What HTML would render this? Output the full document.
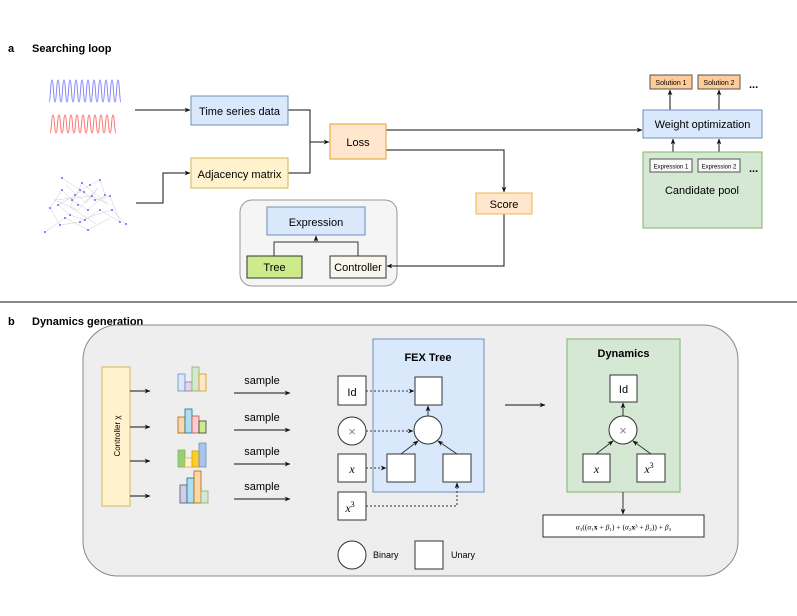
<!DOCTYPE html>
<html><head><meta charset="utf-8"><style>
body{margin:0;background:#fff}
svg{display:block;font-family:"Liberation Sans",Arial,sans-serif}
</style></head><body>
<svg width="797" height="616" viewBox="0 0 797 616" xmlns="http://www.w3.org/2000/svg">
<defs>
<marker id="ar" viewBox="0 0 10 10" refX="9" refY="5" markerWidth="6" markerHeight="6" orient="auto"><path d="M0,1 L10,5 L0,9 L3,5z" fill="#111"/></marker>
</defs>
<text x="8" y="52" font-size="11" font-weight="bold">a</text>
<text x="32" y="52" font-size="11" font-weight="bold">Searching loop</text>
<!-- waves -->
<path fill="none" stroke="#8888ff" stroke-width="1" d="M49,102 c1.5,0 1.5,-22 3,-22 s1.5,22 3,22 s1.5,-22 3,-22 s1.5,22 3,22 s1.5,-22 3,-22 s1.5,22 3,22 s1.5,-22 3,-22 s1.5,22 3,22 s1.5,-22 3,-22 s1.5,22 3,22 s1.5,-22 3,-22 s1.5,22 3,22 s1.5,-22 3,-22 s1.5,22 3,22 s1.5,-22 3,-22 s1.5,22 3,22 s1.5,-22 3,-22 s1.5,22 3,22 s1.5,-22 3,-22 s1.5,22 3,22 s1.5,-22 3,-22 s1.5,22 3,22 s1.5,-22 3,-22 s1.5,22 3,22"/>
<path fill="none" stroke="#ff7777" stroke-width="1" d="M50,133 c1.5,0 1.5,-18 3,-18 s1.5,18 3,18 s1.5,-18 3,-18 s1.5,18 3,18 s1.5,-18 3,-18 s1.5,18 3,18 s1.5,-18 3,-18 s1.5,18 3,18 s1.5,-18 3,-18 s1.5,18 3,18 s1.5,-18 3,-18 s1.5,18 3,18 s1.5,-18 3,-18 s1.5,18 3,18 s1.5,-18 3,-18 s1.5,18 3,18 s1.5,-18 3,-18 s1.5,18 3,18 s1.5,-18 3,-18 s1.5,18 3,18 s1.5,-18 3,-18 s1.5,18 3,18"/>
<!-- network -->
<g stroke="#ccc" stroke-width="0.5" fill="none">
<path d="M62,178 L80,190 L95,200 L110,196 L120,222 L100,210 L85,220 L70,215 L58,205 L75,195 L90,185 L100,180 L105,195 L88,210 L72,200 L62,190 L50,208 L60,225 L80,222 L95,215 L112,210 L126,224 M66,185 L86,203 L98,188 L78,210 L54,200 L92,196 L108,204 L82,183 L70,207 L96,224 M45,232 L65,218 L88,230 L110,218"/>
</g>
<g fill="#6666ff">
<circle cx="62" cy="178" r="1"/><circle cx="80" cy="190" r="1"/><circle cx="95" cy="200" r="1"/><circle cx="110" cy="196" r="1"/><circle cx="120" cy="222" r="1"/><circle cx="100" cy="210" r="1"/><circle cx="85" cy="220" r="1"/><circle cx="70" cy="215" r="1"/><circle cx="58" cy="205" r="1"/><circle cx="75" cy="195" r="1"/><circle cx="90" cy="185" r="1"/><circle cx="100" cy="180" r="1"/><circle cx="105" cy="195" r="1"/><circle cx="88" cy="210" r="1"/><circle cx="72" cy="200" r="1"/><circle cx="62" cy="190" r="1"/><circle cx="50" cy="208" r="1"/><circle cx="60" cy="225" r="1"/><circle cx="80" cy="222" r="1"/><circle cx="112" cy="210" r="1"/><circle cx="126" cy="224" r="1"/><circle cx="45" cy="232" r="1"/><circle cx="65" cy="218" r="1"/><circle cx="88" cy="230" r="1"/><circle cx="82" cy="183" r="1"/><circle cx="92" cy="196" r="1"/><circle cx="78" cy="205" r="1"/><circle cx="84" cy="192" r="1"/>
</g>
<rect x="240" y="200" width="157" height="86" rx="12" fill="#f5f5f5" stroke="#999"/>
<g stroke="#111" stroke-width="1" fill="none">
<line x1="135" y1="110" x2="190" y2="110" marker-end="url(#ar)"/>
<polyline points="136,203 163,203 163,173 190,173" marker-end="url(#ar)"/>
<polyline points="288,110 310,110 310,173 288,173"/>
<line x1="310" y1="142" x2="329" y2="142" marker-end="url(#ar)"/>
<polyline points="386,130 642,130" marker-end="url(#ar)"/>
<polyline points="386,150 504,150 504,192" marker-end="url(#ar)"/>
<polyline points="504,214 504,266 387,266" marker-end="url(#ar)"/>
<line x1="670" y1="110" x2="670" y2="90" marker-end="url(#ar)"/>
<polyline points="702,110 719,110 719,90" marker-end="url(#ar)"/>
<line x1="673" y1="159" x2="673" y2="139" marker-end="url(#ar)"/>
<line x1="719" y1="159" x2="719" y2="139" marker-end="url(#ar)"/>
</g>
<rect x="191" y="96" width="97" height="29" fill="#dae8fc" stroke="#6c8ebf"/>
<text x="239.5" y="115" font-size="11" text-anchor="middle">Time series data</text>
<rect x="191" y="158" width="97" height="30" fill="#fff2cc" stroke="#d6b656"/>
<text x="239.5" y="178" font-size="11" text-anchor="middle">Adjacency matrix</text>
<rect x="330" y="124" width="56" height="35" fill="#ffe6cc" stroke="#e0a030"/>
<text x="358" y="146" font-size="11" text-anchor="middle">Loss</text>
<rect x="476" y="193" width="56" height="21" fill="#ffe6cc" stroke="#e8b84a"/>
<text x="504" y="208" font-size="11" text-anchor="middle">Score</text>
<rect x="267" y="207" width="98" height="28" fill="#dae8fc" stroke="#6c8ebf"/>
<text x="316" y="226" font-size="11" text-anchor="middle">Expression</text>
<g stroke="#333" fill="none"><polyline points="274,256 274,242 358,242 358,256"/><line x1="316" y1="242" x2="316" y2="236" marker-end="url(#ar)"/></g>
<rect x="247" y="256" width="55" height="22" fill="#cdeb8b" stroke="#333"/>
<text x="274.5" y="271" font-size="11" text-anchor="middle">Tree</text>
<rect x="330" y="256" width="56" height="22" fill="#f9f7ed" stroke="#333"/>
<text x="358" y="271" font-size="11" text-anchor="middle">Controller</text>
<rect x="643" y="110" width="119" height="28" fill="#dae8fc" stroke="#6c8ebf"/>
<text x="702.5" y="128" font-size="11" text-anchor="middle">Weight optimization</text>
<rect x="650" y="75" width="42" height="14" fill="#ffcc99" stroke="#555"/>
<text x="671" y="85" font-size="7" text-anchor="middle">Solution 1</text>
<rect x="698" y="75" width="42" height="14" fill="#ffcc99" stroke="#555"/>
<text x="719" y="85" font-size="7" text-anchor="middle">Solution 2</text>
<text x="749" y="88" font-size="11" font-weight="bold">...</text>
<rect x="643" y="152" width="119" height="76" fill="#d5e8d4" stroke="#82b366"/>
<rect x="650" y="159" width="42" height="13" fill="#f9f9f9" stroke="#555"/>
<text x="671" y="168.5" font-size="6" text-anchor="middle">Expression 1</text>
<rect x="698" y="159" width="42" height="13" fill="#f9f9f9" stroke="#555"/>
<text x="719" y="168.5" font-size="6" text-anchor="middle">Expression 2</text>
<text x="749" y="172" font-size="11" font-weight="bold">...</text>
<text x="702" y="194" font-size="11" text-anchor="middle">Candidate pool</text>
<line x1="0" y1="302" x2="797" y2="302" stroke="#111" stroke-width="1"/>
<text x="8" y="325" font-size="11" font-weight="bold">b</text>
<text x="32" y="325" font-size="11" font-weight="bold">Dynamics generation</text>
<rect x="83" y="325" width="655" height="251" rx="35" fill="#eeeeee" stroke="#888"/>
<rect x="102" y="367" width="28" height="139" fill="#fff2cc" stroke="#d6b656"/>
<text transform="translate(120,436) rotate(-90)" font-size="8" text-anchor="middle">Controller χ</text>
<g stroke="#111" fill="none">
<line x1="130" y1="391" x2="150" y2="391" marker-end="url(#ar)"/>
<line x1="130" y1="427" x2="150" y2="427" marker-end="url(#ar)"/>
<line x1="130" y1="461" x2="150" y2="461" marker-end="url(#ar)"/>
<line x1="130" y1="496" x2="150" y2="496" marker-end="url(#ar)"/>
<line x1="234" y1="393" x2="290" y2="393" marker-end="url(#ar)"/>
<line x1="234" y1="430" x2="290" y2="430" marker-end="url(#ar)"/>
<line x1="234" y1="464" x2="290" y2="464" marker-end="url(#ar)"/>
<line x1="234" y1="499" x2="290" y2="499" marker-end="url(#ar)"/>
</g>
<g font-size="11" text-anchor="middle"><text x="262" y="384">sample</text><text x="262" y="421">sample</text><text x="262" y="455">sample</text><text x="262" y="490">sample</text></g>
<g stroke-width="0.8">
<rect x="178" y="374" width="7" height="17" fill="#dae8fc" stroke="#6c8ebf"/><rect x="185" y="382" width="7" height="9" fill="#e1d5e7" stroke="#9673a6"/><rect x="192" y="367" width="7" height="24" fill="#d5e8d4" stroke="#82b366"/><rect x="199" y="374" width="7" height="17" fill="#ffe6cc" stroke="#d79b00"/>
<rect x="178" y="417" width="7" height="16" fill="#fad7ac" stroke="#b46504"/><rect x="185" y="409" width="7" height="24" fill="#b1ddf0" stroke="#10739e"/><rect x="192" y="416" width="7" height="17" fill="#f8cecc" stroke="#b85450"/><rect x="199" y="421" width="7" height="12" fill="#cdeb8b" stroke="#36393d"/>
<rect x="178" y="450" width="7" height="17" fill="#97d077" stroke="#82b366"/><rect x="185" y="458" width="7" height="9" fill="#fff2cc" stroke="#d6b656"/><rect x="192" y="451" width="7" height="16" fill="#ffcd28" stroke="#d79b00"/><rect x="199" y="443" width="7" height="24" fill="#a9c4eb" stroke="#6c8ebf"/>
<rect x="180" y="485" width="7" height="18" fill="#d0cee2" stroke="#56517e"/><rect x="187" y="478" width="7" height="25" fill="#b1ddf0" stroke="#10739e"/><rect x="194" y="471" width="7" height="32" fill="#fad7ac" stroke="#b46504"/><rect x="201" y="491" width="7" height="12" fill="#d5e8d4" stroke="#82b366"/>
</g>
<rect x="373" y="339" width="111" height="153" fill="#dae8fc" stroke="#6c8ebf"/>
<text x="428" y="361" font-size="11" font-weight="bold" text-anchor="middle">FEX Tree</text>
<g fill="#fff" stroke="#333">
<rect x="338" y="376" width="28" height="29"/><circle cx="352" cy="431" r="14"/><rect x="338" y="454" width="28" height="28"/><rect x="338" y="492" width="28" height="28"/>
<rect x="415" y="377" width="27" height="28"/><circle cx="428" cy="430" r="14"/><rect x="387" y="454" width="28" height="28"/><rect x="443" y="454" width="28" height="28"/>
<circle cx="352" cy="555" r="14"/><rect x="415" y="541" width="28" height="28"/>
</g>
<text x="352" y="396" font-size="11" text-anchor="middle">Id</text>
<text x="352" y="436" font-size="13" fill="#888" text-anchor="middle">×</text>
<text x="352" y="473" font-size="12" font-style="italic" font-family="Liberation Serif" text-anchor="middle">x</text>
<text x="350" y="512" font-size="12" font-style="italic" font-family="Liberation Serif" text-anchor="middle">x<tspan font-style="normal" font-size="8" dy="-5">3</tspan></text>
<g stroke="#333" fill="none" stroke-dasharray="2,2">
<line x1="366" y1="391" x2="414" y2="391" marker-end="url(#ar)"/>
<line x1="366" y1="431" x2="413" y2="431" marker-end="url(#ar)"/>
<line x1="366" y1="468" x2="386" y2="468" marker-end="url(#ar)"/>
<polyline points="366,506 457,506 457,483" marker-end="url(#ar)"/>
</g>
<g stroke="#333" fill="none">
<line x1="428" y1="416" x2="428" y2="406" marker-end="url(#ar)"/>
<line x1="401" y1="454" x2="418" y2="441" marker-end="url(#ar)"/>
<line x1="457" y1="454" x2="438" y2="441" marker-end="url(#ar)"/>
</g>
<text x="373" y="558" font-size="9">Binary</text>
<text x="451" y="558" font-size="9">Unary</text>
<line x1="505" y1="405" x2="545" y2="405" stroke="#111" marker-end="url(#ar)"/>
<rect x="567" y="339" width="113" height="153" fill="#d5e8d4" stroke="#82b366"/>
<text x="623.5" y="357" font-size="11" font-weight="bold" text-anchor="middle">Dynamics</text>
<g fill="#fff" stroke="#333">
<rect x="610" y="375" width="27" height="27"/><circle cx="623" cy="430" r="14"/><rect x="583" y="454" width="27" height="28"/><rect x="637" y="454" width="28" height="28"/>
</g>
<text x="623.5" y="393" font-size="11" text-anchor="middle">Id</text>
<text x="623" y="435" font-size="13" fill="#888" text-anchor="middle">×</text>
<text x="596.5" y="473" font-size="12" font-style="italic" font-family="Liberation Serif" text-anchor="middle">x</text>
<text x="649" y="473" font-size="12" font-style="italic" font-family="Liberation Serif" text-anchor="middle">x<tspan font-style="normal" font-size="8" dy="-5">3</tspan></text>
<g stroke="#333" fill="none">
<line x1="623" y1="416" x2="623" y2="403" marker-end="url(#ar)"/>
<line x1="596" y1="454" x2="613" y2="441" marker-end="url(#ar)"/>
<line x1="651" y1="454" x2="633" y2="441" marker-end="url(#ar)"/>
<line x1="623" y1="492" x2="623" y2="514" marker-end="url(#ar)"/>
</g>
<rect x="543" y="515" width="161" height="22" fill="#fff" stroke="#333"/>
<text x="623.5" y="529.5" font-size="7.5" font-family="Liberation Serif" text-anchor="middle"><tspan font-style="italic">α</tspan>₃((<tspan font-style="italic">α</tspan>₁<tspan font-weight="bold">x</tspan> + <tspan font-style="italic">β</tspan>₁) + (<tspan font-style="italic">α</tspan>₂<tspan font-weight="bold">x</tspan>³ + <tspan font-style="italic">β</tspan>₂)) + <tspan font-style="italic">β</tspan>₃</text>
</svg>
</body></html>
